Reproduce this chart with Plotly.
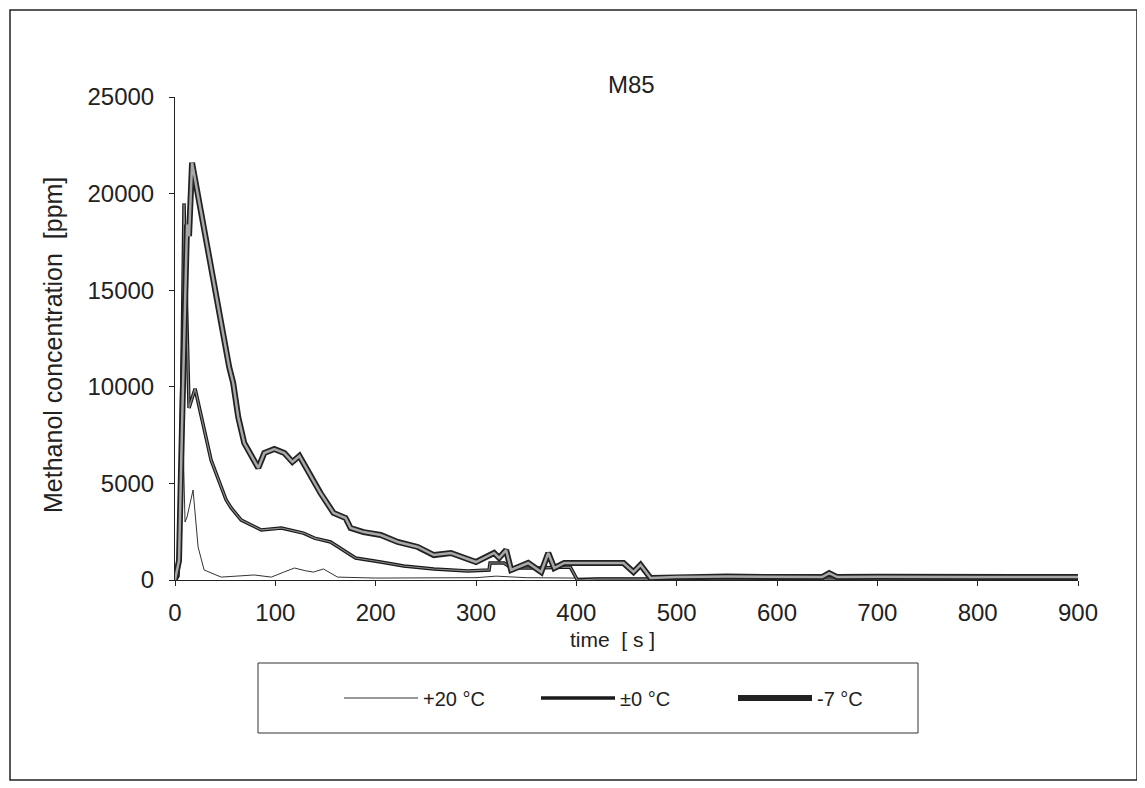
import plotly.graph_objects as go

# +20 °C
t_p20 = [0, 3, 5, 7, 10, 12, 18, 23, 29, 46, 79, 96, 108, 119, 130, 138, 148, 162, 200, 250, 300, 320, 350, 400, 500, 600, 700, 800, 900]
v_p20 = [0, 300, 5000, 9500, 3000, 3260, 4660, 1710, 520, 150, 260, 150, 400, 620, 480, 410, 570, 150, 100, 100, 120, 200, 120, 100, 80, 80, 80, 80, 80]

# ±0 °C
t_0 = [0, 3, 5, 7, 9, 14, 20, 36, 51, 56, 66, 86, 106, 128, 139, 155, 168, 180, 205, 228, 258, 292, 313, 314, 328, 335, 360, 394, 401, 420, 500, 600, 700, 800, 900]
v_0 = [0, 200, 3000, 12000, 19500, 8900, 9900, 6200, 4140, 3730, 3100, 2590, 2690, 2430, 2170, 1970, 1550, 1140, 930, 725, 570, 470, 520, 880, 880, 620, 620, 670, 0, 50, 50, 50, 50, 50, 50]

# -7 °C
t_m7 = [0, 4, 7, 10, 12, 14, 17, 54, 58, 63, 69, 83, 89, 99, 109, 117, 124, 132, 145, 158, 170, 175, 188, 205, 222, 242, 255, 258, 275, 300, 318, 323, 330, 335, 352, 365, 372, 378, 388, 447, 457, 464, 474, 500, 550, 600, 645, 652, 660, 700, 750, 800, 850, 900]
v_m7 = [0, 1000, 8000, 15000, 18400, 17800, 21600, 11020, 10200, 8440, 7090, 5800, 6570, 6780, 6570, 6110, 6420, 5690, 4500, 3470, 3210, 2690, 2480, 2330, 1970, 1710, 1400, 1290, 1400, 930, 1400, 1140, 1550, 520, 880, 410, 1400, 620, 880, 880, 410, 780, 100, 150, 180, 150, 150, 350, 150, 170, 150, 160, 150, 150]

x_ticks = [0, 100, 200, 300, 400, 500, 600, 700, 800, 900]
y_ticks = [0, 5000, 10000, 15000, 20000, 25000]

fig = go.Figure()
fig.add_trace(go.Scatter(x=t_p20, y=v_p20, mode="lines", name="+20 °C",
                         line=dict(color="#333333", width=1)))
fig.add_trace(go.Scatter(x=t_0, y=v_0, mode="lines", name="±0 °C",
                         line=dict(color="#1a1a1a", width=3.5)))
fig.add_trace(go.Scatter(x=t_0, y=v_0, mode="lines", showlegend=False, hoverinfo="skip",
                         line=dict(color="#8a8a8a", width=1.2)))
fig.add_trace(go.Scatter(x=t_m7, y=v_m7, mode="lines", name="-7 °C",
                         line=dict(color="#222222", width=6)))
fig.add_trace(go.Scatter(x=t_m7, y=v_m7, mode="lines", showlegend=False, hoverinfo="skip",
                         line=dict(color="#a8a8a8", width=2.5)))

font = "Liberation Sans, Arial, sans-serif"
# page body adds an 8px offset; margins compensate
L, R, T, B = 167, 75, 89, 216
PW, PH = 1145 - L - R, 788 - T - B


def px(fx):
    return (fx - 8 - L) / PW


def py(fy):
    return (788 - B - (fy - 8)) / PH


fig.update_layout(
    width=1145, height=788,
    margin=dict(l=L, r=R, t=T, b=B),
    paper_bgcolor="white", plot_bgcolor="white",
    font=dict(family=font, size=20, color="#222222"),
    xaxis=dict(range=[0, 900], tickvals=x_ticks, tickformat="d", ticks="outside", ticklen=5,
               tickcolor="#222", showline=True, linecolor="#222", linewidth=1,
               showgrid=False, zeroline=False, tickfont=dict(size=24),
               ticklabelstandoff=6),
    yaxis=dict(range=[0, 25000], tickvals=y_ticks, tickformat="d", ticks="outside", ticklen=5,
               tickcolor="#222", showline=True, linecolor="#222", linewidth=1,
               showgrid=False, zeroline=False, tickfont=dict(size=24),
               ticklabelstandoff=10),
    legend=dict(orientation="h", x=px(339), y=py(698), xanchor="left", yanchor="middle",
                borderwidth=0, bgcolor="rgba(0,0,0,0)",
                font=dict(size=20), entrywidth=108, entrywidthmode="pixels",
                itemwidth=74),
    showlegend=True,
)

fig.add_annotation(text="M85", xref="paper", yref="paper", x=px(631), y=py(85),
                   showarrow=False, font=dict(size=24), xanchor="center", yanchor="middle")
fig.add_annotation(text="time  [ s ]", xref="paper", yref="paper", x=px(612), y=py(639),
                   showarrow=False, font=dict(size=21), xanchor="center", yanchor="middle")
fig.add_annotation(text="Methanol concentration  [ppm]", xref="paper", yref="paper",
                   x=px(53), y=py(345), textangle=-90,
                   showarrow=False, font=dict(size=25), xanchor="center", yanchor="middle")

fig.add_shape(type="rect", xref="paper", yref="paper",
              x0=px(258), x1=px(918), y0=py(733), y1=py(663),
              line=dict(color="#333", width=1), fillcolor="rgba(0,0,0,0)")
fig.add_shape(type="rect", xref="paper", yref="paper",
              x0=px(10), x1=px(1137), y0=py(780), y1=py(10),
              line=dict(color="#222", width=1.5), fillcolor="rgba(0,0,0,0)", layer="below")

fig.write_html("out.html")
